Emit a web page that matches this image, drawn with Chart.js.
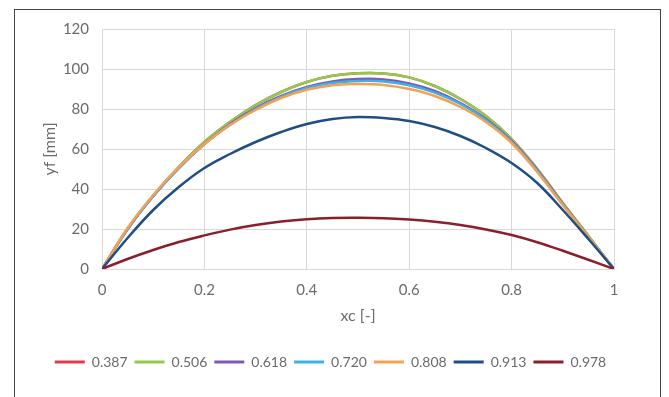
<!DOCTYPE html>
<html>
<head>
<meta charset="utf-8">
<script src="https://cdn.jsdelivr.net/npm/chart.js@4/dist/chart.umd.min.js"></script>
<style>
  html, body { margin: 0; padding: 0; background: #fff; width: 669px; height: 397px; overflow: hidden; }
  #frame { position: absolute; left: 14px; top: 9px; width: 645px; height: 420px; border: 1px solid #444; }
  #wrap { position: absolute; left: 0; top: 0; width: 669px; height: 397px; }
</style>
</head>
<body>
<div id="frame"></div>
<div id="wrap"><canvas id="c" width="669" height="397"></canvas></div>
<script>
// x positions (xc [-])
const xc = [0, 0.05, 0.1, 0.15, 0.2, 0.25, 0.3, 0.35, 0.4, 0.45, 0.5, 0.55, 0.6, 0.65, 0.7, 0.75, 0.8, 0.85, 0.9, 0.95, 1];
// yf [mm] per series
const s0387 = [0, 20, 36.5, 51, 63.5, 73.5, 82, 88.5, 93.5, 96.6, 97.9, 97.8, 95.8, 91.5, 85, 76.5, 65, 50, 33, 16.5, 0];
const s0506 = [0, 20, 36.5, 51, 63.5, 73.5, 82, 88.5, 93.5, 96.6, 97.9, 97.8, 95.8, 91.5, 85, 76.5, 65, 50, 33, 16.5, 0];
const s0618 = [0, 20, 36.5, 50.5, 62.5, 72.5, 80.5, 86.5, 91, 93.8, 95, 94.8, 92.8, 89, 83, 75, 64, 49.5, 32.5, 16, 0];
const s0720 = [0, 20, 36.5, 50.5, 62.5, 72, 80, 86, 90.5, 93, 94, 93.8, 91.9, 88.2, 82.5, 74.5, 63.5, 49, 32.2, 16, 0];
const s0808 = [0, 20.5, 37, 51, 62.5, 72, 79.5, 85.5, 89.6, 91.9, 92.5, 92, 90, 86.5, 81, 73.5, 63, 48.5, 32, 16, 0];
const s0913 = [0, 15.5, 29.5, 41, 50.5, 57.5, 63.5, 68.5, 72.5, 75, 76, 75.5, 74, 71, 66.5, 60.5, 53, 43, 29.5, 15, 0];
const s0978 = [0, 5, 9.5, 13.5, 16.8, 19.7, 22, 23.7, 24.9, 25.5, 25.6, 25.4, 24.7, 23.6, 22, 19.8, 17, 13.4, 9.1, 4.6, 0];

const seriesNames = ['0.387', '0.506', '0.618', '0.720', '0.808', '0.913', '0.978'];
const seriesValues = [s0387, s0506, s0618, s0720, s0808, s0913, s0978];
const seriesColors = ['#E03A4B', '#92C94F', '#7F5AB5', '#3DB3E3', '#F5A052', '#1F4E85', '#8B1E2D'];

const xTickLabels = ['0', '0.2', '0.4', '0.6', '0.8', '1'];
const yTickLabels = ['0', '20', '40', '60', '80', '100', '120'];

const textColor = '#6b6b6b';
const fontFamily = 'Lato, "Open Sans", sans-serif';

const datasets = seriesNames.map((name, i) => ({
  label: name,
  data: xc.map((x, j) => ({ x: x, y: seriesValues[i][j] })),
  borderColor: seriesColors[i],
  backgroundColor: seriesColors[i],
  borderWidth: 2.5,
  pointRadius: 0,
  showLine: true,
  tension: 0.4,
  fill: false,
  order: 10 - i
}));

new Chart(document.getElementById('c'), {
  type: 'scatter',
  data: { datasets: datasets },
  options: {
    responsive: false,
    animation: false,
    layout: { padding: { left: 0, right: 8, top: 29, bottom: 18 } },
    plugins: {
      tooltip: { enabled: false },
      legend: {
        position: 'bottom',
        labels: {
          color: textColor,
          font: { family: fontFamily, size: 14 },
          boxWidth: 30,
          boxHeight: 3,
          padding: 7,
          sort: (a, b) => a.datasetIndex - b.datasetIndex,
          generateLabels: (chart) => chart.data.datasets.map((d, i) => ({
            text: d.label,
            fillStyle: d.borderColor,
            strokeStyle: d.borderColor,
            lineWidth: 0,
            hidden: false,
            datasetIndex: i,
            fontColor: textColor
          }))
        }
      }
    },
    scales: {
      x: {
        type: 'linear',
        min: 0, max: 1,
        afterFit: (s) => { s.height = 79; },
        ticks: {
          stepSize: 0.2,
          color: textColor,
          font: { family: fontFamily, size: 15 },
          padding: 12,
          maxRotation: 0,
          callback: (v, i) => xTickLabels[i]
        },
        grid: { color: '#d9d9d9', lineWidth: 1, drawTicks: false },
        border: { color: '#d9d9d9' },
        title: {
          display: true,
          text: 'xc [-]',
          color: textColor,
          font: { family: fontFamily, size: 16 },
          padding: { top: 0, bottom: 23 }
        }
      },
      y: {
        type: 'linear',
        min: 0, max: 120,
        afterFit: (s) => { s.width = 102; },
        ticks: {
          stepSize: 20,
          color: textColor,
          font: { family: fontFamily, size: 15 },
          padding: 13,
          callback: (v, i) => yTickLabels[i]
        },
        grid: { color: '#d9d9d9', lineWidth: 1, drawTicks: false },
        border: { color: '#d9d9d9' },
        title: {
          display: true,
          text: 'yf [mm]',
          color: textColor,
          font: { family: fontFamily, size: 16 },
          padding: { top: 40, bottom: 0 }
        }
      },
      spacer: {
        type: 'linear',
        position: 'right',
        display: true,
        afterFit: (s) => { s.width = 47; },
        ticks: { display: false },
        grid: { display: false, drawTicks: false },
        border: { display: false }
      }
    }
  }
});
</script>
</body>
</html>
